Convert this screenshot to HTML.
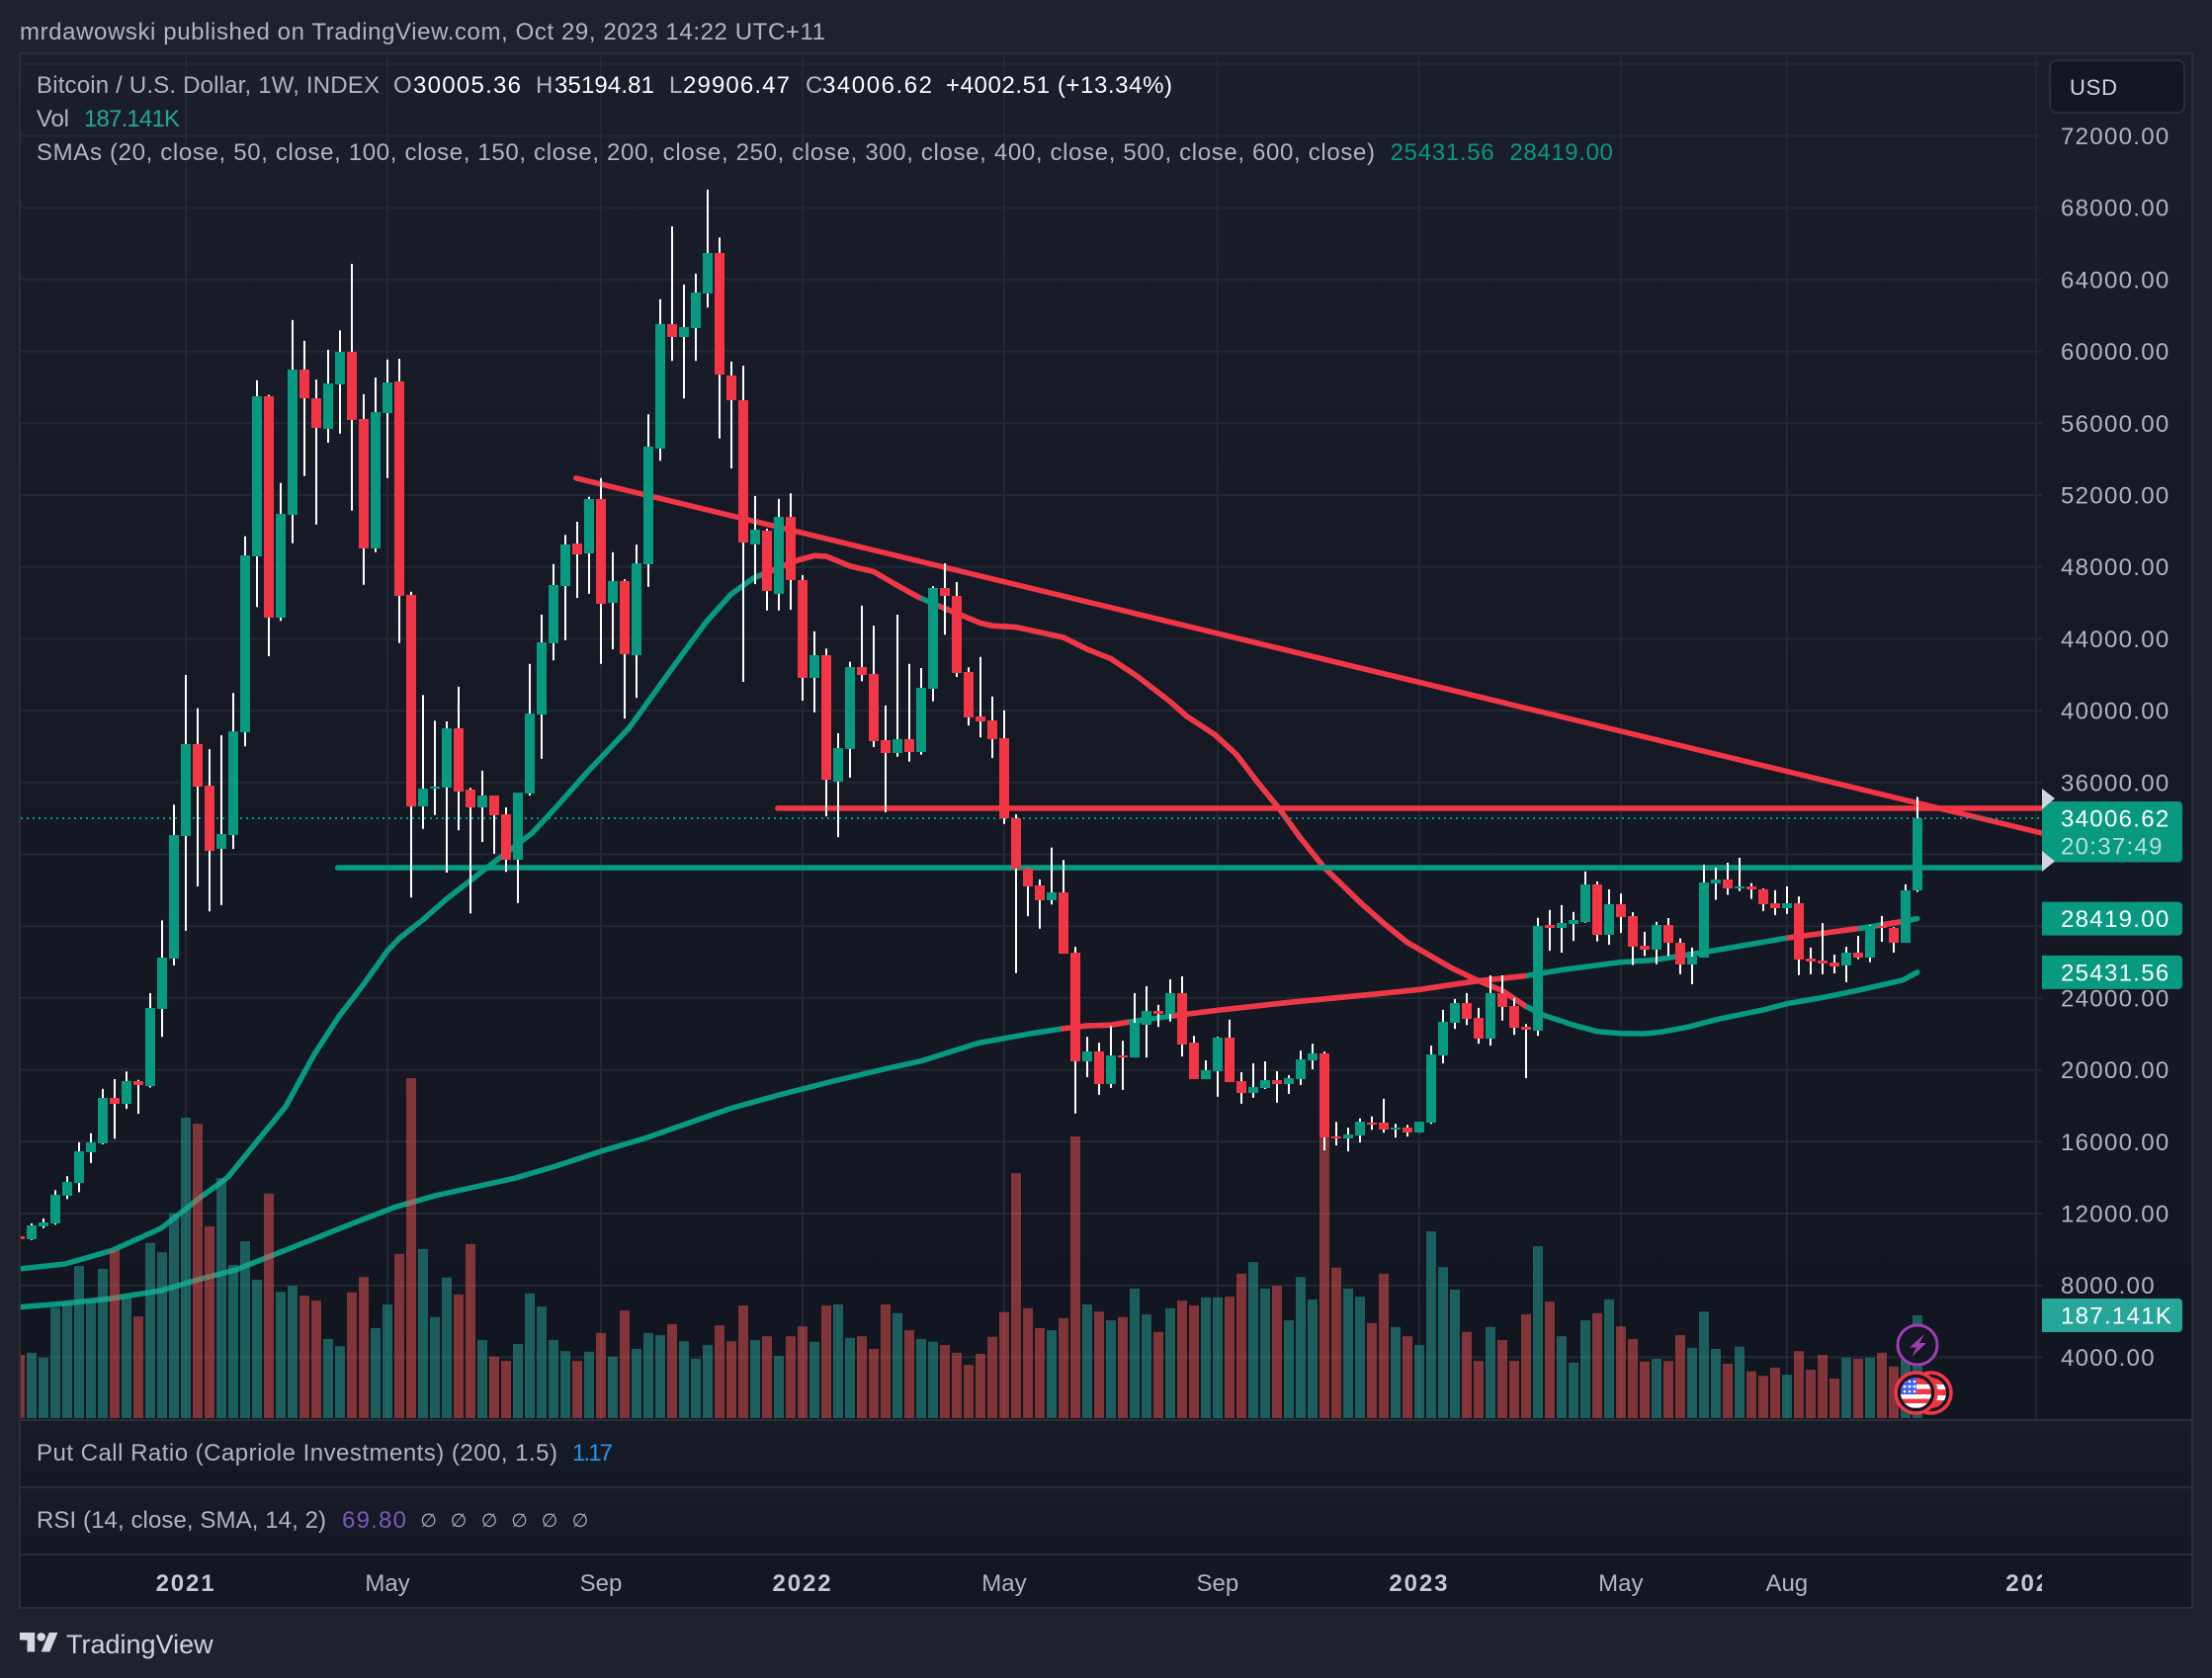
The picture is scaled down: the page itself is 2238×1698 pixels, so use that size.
<!DOCTYPE html>
<html lang="en">
<head>
<meta charset="utf-8">
<title>BTCUSD weekly chart</title>
<style>
html,body{margin:0;padding:0;background:#1e222d;width:2238px;height:1698px;overflow:hidden}
svg{display:block}
text{font-family:"Liberation Sans","DejaVu Sans",sans-serif;font-size:24px;fill:#b2b5be}
.val{fill:#ffffff}
</style>
</head>
<body>
<svg id="chart" xmlns="http://www.w3.org/2000/svg" width="2238" height="1698" viewBox="0 0 2238 1698">
<defs>
<linearGradient id="paneGrad" x1="0" y1="0" x2="0" y2="1"><stop offset="0" stop-color="#1b1f2b"/><stop offset="0.35" stop-color="#161a26"/><stop offset="1" stop-color="#121620"/></linearGradient>
<linearGradient id="subGrad" x1="0" y1="0" x2="0" y2="1"><stop offset="0" stop-color="#181c27"/><stop offset="1" stop-color="#141822"/></linearGradient>
<clipPath id="paneClip"><rect x="21" y="55" width="2045" height="1381"/></clipPath>
<clipPath id="timeClip"><rect x="21" y="1575" width="2045" height="50"/></clipPath>
<clipPath id="smaARedClip"></clipPath>
<clipPath id="smaBRedClip"></clipPath>
<clipPath id="flagClipA"><circle cx="1938.5" cy="1409.5" r="15.5"/></clipPath>
<clipPath id="flagClipB"><circle cx="1953.5" cy="1409.5" r="15.5"/></clipPath>
</defs>

<rect x="0" y="0" width="2238" height="1698" fill="#1e222d"/>
<text x="20" y="40" textLength="815" lengthAdjust="spacing">mrdawowski published on TradingView.com, Oct 29, 2023 14:22 UTC+11</text>

<rect x="20" y="54" width="2198" height="1573" fill="#131722" stroke="#2a2e39" stroke-width="2"/>
<rect x="21" y="55" width="2196" height="1381" fill="url(#paneGrad)"/>
<rect x="21" y="1438" width="2196" height="66" fill="url(#subGrad)"/>
<rect x="21" y="1506" width="2196" height="66" fill="url(#subGrad)"/>
<rect x="21" y="1574" width="2196" height="52" fill="#131722"/>
<g stroke="#2a2e39" stroke-width="2">
<line x1="20" x2="2218" y1="1437" y2="1437"/><line x1="20" x2="2218" y1="1505" y2="1505"/><line x1="20" x2="2218" y1="1573" y2="1573"/>
</g>

<g id="gridLayer"></g>
<g clip-path="url(#paneClip)">
<g id="smaLayer"></g>
<g id="trendLayer"></g>
<g id="volumeLayer"></g>
<g id="priceLineLayer"></g>
<g id="candleLayer"></g>
</g>
<g id="priceAxisLayer"></g>
<g id="timeAxisLayer" clip-path="url(#timeClip)"></g>

<text x="37" y="94" textLength="347" lengthAdjust="spacing">Bitcoin / U.S. Dollar, 1W, INDEX</text>
<text x="398" y="94">O</text>
<text class="val" x="418" y="94" textLength="109" lengthAdjust="spacing">30005.36</text>
<text x="542" y="94">H</text>
<text class="val" x="561" y="94" textLength="101" lengthAdjust="spacing">35194.81</text>
<text x="677" y="94">L</text>
<text class="val" x="691" y="94" textLength="108" lengthAdjust="spacing">29906.47</text>
<text x="815" y="94">C</text>
<text class="val" x="832" y="94" textLength="111" lengthAdjust="spacing">34006.62</text>
<text class="val" x="957" y="94" textLength="229" lengthAdjust="spacing">+4002.51 (+13.34%)</text>
<text x="37" y="128" textLength="33" lengthAdjust="spacing">Vol</text>
<text x="85" y="128" textLength="97" lengthAdjust="spacing" style="fill:#26a69a">187.141K</text>
<text x="37" y="162" textLength="1354" lengthAdjust="spacing">SMAs (20, close, 50, close, 100, close, 150, close, 200, close, 250, close, 300, close, 400, close, 500, close, 600, close)</text>
<text x="1406.6" y="162" textLength="105" lengthAdjust="spacing" style="fill:#089981">25431.56</text>
<text x="1527.4" y="162" textLength="104.5" lengthAdjust="spacing" style="fill:#089981">28419.00</text>

<text x="37" y="1478" textLength="527" lengthAdjust="spacing">Put Call Ratio (Capriole Investments) (200, 1.5)</text>
<text x="579" y="1478" textLength="41" lengthAdjust="spacing" style="fill:#2196f3">1.17</text>
<text x="37" y="1546" textLength="293" lengthAdjust="spacing">RSI (14, close, SMA, 14, 2)</text>
<text x="346" y="1546" textLength="65" lengthAdjust="spacing" style="fill:#7e57c2">69.80</text>
<g text-anchor="middle">
<text x="433.7" y="1545" style="font-family:'DejaVu Sans',sans-serif;font-size:19px">∅</text>
<text x="464" y="1545" style="font-family:'DejaVu Sans',sans-serif;font-size:19px">∅</text>
<text x="495" y="1545" style="font-family:'DejaVu Sans',sans-serif;font-size:19px">∅</text>
<text x="525.5" y="1545" style="font-family:'DejaVu Sans',sans-serif;font-size:19px">∅</text>
<text x="556" y="1545" style="font-family:'DejaVu Sans',sans-serif;font-size:19px">∅</text>
<text x="587" y="1545" style="font-family:'DejaVu Sans',sans-serif;font-size:19px">∅</text>
</g>

<g>
<rect x="2074" y="61" width="136" height="53" rx="7" fill="#131722" stroke="#2a2e39" stroke-width="2"/>
<text x="2094" y="96" textLength="48" lengthAdjust="spacing" style="fill:#d1d4dc;font-size:22px">USD</text>
</g>

<g id="tagLayer"></g>

<g fill="#d1d4dc">
<path d="M2066 798 L2079 808 L2066 819 Z"/>
<path d="M2066 861 L2079 871.5 L2066 882 Z"/>
</g>

<g>
<circle cx="1953.5" cy="1409.5" r="20.5" fill="#131722" stroke="#f23645" stroke-width="3.5"/>
<g clip-path="url(#flagClipB)">
<rect x="1936" y="1392" width="36" height="36" fill="#f23645"/>
<rect x="1936" y="1401" width="36" height="5" fill="#ffffff"/>
<rect x="1936" y="1412" width="36" height="5" fill="#ffffff"/>
</g>
<circle cx="1938.5" cy="1409.5" r="20.5" fill="#131722" stroke="#f23645" stroke-width="3.5"/>
<g clip-path="url(#flagClipA)">
<rect x="1921" y="1392" width="36" height="36" fill="#f23645"/>
<rect x="1921" y="1401" width="36" height="4.5" fill="#ffffff"/>
<rect x="1921" y="1411" width="36" height="4.5" fill="#ffffff"/>
<rect x="1921" y="1420" width="36" height="4.5" fill="#ffffff"/>
<rect x="1921" y="1392" width="18" height="19" fill="#2962ff" opacity="0.85"/>
<g fill="#ffffff"><circle cx="1927" cy="1398" r="1.3"/><circle cx="1932" cy="1398" r="1.3"/><circle cx="1937" cy="1398" r="1.3"/><circle cx="1927" cy="1403" r="1.3"/><circle cx="1932" cy="1403" r="1.3"/><circle cx="1937" cy="1403" r="1.3"/><circle cx="1927" cy="1408" r="1.3"/><circle cx="1932" cy="1408" r="1.3"/><circle cx="1937" cy="1408" r="1.3"/></g>
</g>
</g>
<g>
<circle cx="1940" cy="1361" r="20" fill="#131722" stroke="#9c3fb5" stroke-width="3"/>
<path d="M1947 1350 L1932 1363.5 L1939 1363.5 L1934 1373 L1949 1359 L1942 1359 Z" fill="#9c3fb5"/>
</g>

<g>
<path transform="translate(20,1647.7) scale(1.083)" d="M14 22H7V11H0V4h14v18zM28 22h-8l7.5-18h8L28 22z" fill="#d6d8e0"/>
<circle cx="41.7" cy="1656.4" r="4.3" fill="#d6d8e0"/>
<text x="67" y="1673" textLength="148.6" lengthAdjust="spacing" style="font-size:27px;fill:#d1d4dc">TradingView</text>
</g>
</svg>

<script>
var opens=[10720,10565,11299,11453,12997,13692,15429,15892,18440,18092,19366,19096,23381,26198,33031,38126,35810,32259,33069,38782,48586,57503,45190,50902,58970,57387,55727,58159,59973,56229,49011,56577,58314,46425,34652,35655,35694,39014,35617,34613,35269,34227,31680,35385,39786,43761,46927,49320,48741,51790,45962,47197,43105,48162,54569,61517,60823,61286,63216,65493,58661,57271,49243,50015,46502,50786,47274,41831,43105,36080,37856,42410,42024,38357,37624,38396,37701,41214,46811,46386,42140,39670,39438,38473,33996,31216,30251,29402,29865,26519,20470,21017,19211,20798,20689,22495,23289,23098,24274,21510,19485,19923,21784,19375,18718,18992,19430,19211,19485,20525,20908,16282,16173,16337,17049,17049,16666,16775,16501,17049,20798,22632,23727,22906,21729,24274,23563,22386,22167,28052,27887,28134,28265,30349,27524,29215,28566,26899,26690,28057,27084,25880,26250,30373,30604,30095,30211,30048,29284,29006,29284,26181,26088,25972,25764,26505,26204,27987,27895,27084,30005.36];
var highs=[10990,11453,11723,13306,14078,15969,16471,18942,19482,19907,19443,24268,28321,34768,41986,40133,37856,38628,40982,49706,58391,57580,52678,61749,60591,58429,60089,61170,64876,57619,58545,59549,59587,46618,40866,39438,39400,41330,35694,36659,35269,34613,35424,42603,45344,48162,49783,50516,51906,52948,48818,47313,49243,56499,62907,66960,63718,64335,69006,66342,59433,59201,51945,50130,51790,52099,47544,44418,43453,38743,42719,45846,44726,40287,45344,42603,42372,46927,48200,47158,42410,42989,40789,40017,34227,31216,30598,32374,31680,26848,21839,21510,22441,21620,24274,24658,23618,25041,25205,21893,20525,21839,22796,19868,20361,20470,19923,19704,21072,21455,21017,17104,16775,17295,17405,18390,16994,16939,17104,21346,23344,23946,24274,23453,25260,25260,24001,22550,28462,28900,29174,28790,31044,30488,30048,29817,28775,27686,28242,28450,27316,26806,31415,31253,31531,31809,30396,30095,30002,30211,29655,26806,28172,26412,26852,27454,28057,28566,27941,30326,35194.81];
var lows=[10411,10527,11183,11376,12804,13190,14811,15854,16162,17822,17552,19019,21837,25812,27742,30213,28823,29171,32297,38010,45769,43028,44997,49320,53064,50362,54917,55419,51134,47004,48818,52948,43761,29595,33417,34189,30985,33339,28707,32683,32027,31023,29286,35270,37315,42796,43916,46270,46502,42603,43414,39554,40712,46888,53913,59472,57387,59472,62444,55148,53489,41600,47042,45576,45576,45614,40558,39901,34111,32953,36273,41638,37971,34343,37431,37161,37547,40519,44225,41870,39168,38512,37354,33687,25388,28553,27858,29209,26469,17569,19594,18609,18992,18883,20689,20689,22386,22687,20744,19485,19485,18499,19320,18116,18445,18937,18171,18664,19156,20032,15516,15790,15461,15954,16666,16501,16228,16282,16501,16990,20361,22276,22495,21455,21346,22742,21948,19539,21893,26628,26519,27176,28196,27153,26968,27617,25833,26343,25880,26343,25324,24768,26250,29469,29747,29956,29516,28844,28612,28682,25277,25324,25324,25370,24884,26158,25995,27130,26528,27084,29906.47];
var closes=[10565,11337,11492,13036,13769,15468,15969,18440,18092,19366,19135,23458,26237,33069,38126,35771,32181,33108,38859,48625,57503,45190,50941,58970,57349,55727,58236,59973,56191,49011,56615,58275,46386,34652,35655,35771,39014,35501,34613,35269,34189,31680,35424,39824,43800,47004,49243,48741,51790,45962,47197,43144,48200,54685,61517,60823,61363,63293,65493,58700,57271,49358,50092,46656,50786,47274,41831,43105,36196,37933,42410,41947,38280,37624,38396,37701,41252,46811,46348,42102,39631,39400,38396,33996,31216,30213,29402,29865,26469,20470,21017,19211,20798,20689,22605,23289,23125,24274,21401,19485,19977,21784,19320,18718,19047,19430,19211,19539,20579,20908,16228,16173,16392,17104,16994,16666,16775,16501,17104,20853,22687,23727,22851,21729,24274,23508,22331,22194,28024,27887,28188,28353,30349,27524,29215,28497,26852,26690,28057,27061,25880,26296,30442,30604,30095,30211,30048,29215,29006,29284,26134,26019,25926,25764,26505,26204,27987,27895,27084,30002,34006.62];
var volumesK=[115,119,110,201,210,277,213,272,306,219,185,319,302,373,547,536,349,437,279,322,252,409,230,241,223,214,144,131,229,257,164,207,299,619,308,184,256,225,317,142,112,104,135,227,203,142,122,104,121,155,112,196,126,155,151,171,140,108,133,169,140,205,142,149,113,149,167,139,205,207,146,149,126,207,191,160,144,139,133,119,97,117,148,193,446,200,164,160,182,513,207,194,178,184,236,189,157,200,214,205,220,220,221,263,284,236,241,178,257,216,513,274,236,221,173,263,166,149,133,340,275,234,157,104,166,142,104,189,313,212,149,101,178,191,216,167,144,103,108,104,151,128,194,126,99,130,85,77,92,79,122,88,115,72,110,108,110,119,94,117,187.141];

var smaABars=[0,3.8,7.7,11.9,15.4,17.5,20,22.4,24.8,26.9,29,31,32,34,36,40,43.2,45,47.8,51.4,54.9,57.9,60,61.9,63.6,65.5,67,68,70,72,74,75.8,78,81,82,84,88,90,92,94.3,97,98.4,100.8,102.6,104.4,106.2,108,110,113,115.1,117,120.8,123,125,127,128.5,131,133,135,137,138.4,140.8,143.2,147,149,152,155,158.8,160];
var smaAValues=[8919,9194,9926,11175,12990,13997,16017,17942,20836,22960,24770,26625,27323,28363,29518,31565,33183,34459,36539,39054,42261,44958,46498,47389,47851,48358,48628,48590,48050,47736,46966,46311,45695,44881,44727,44650,44077,43417,42889,41877,40501,39686,38647,37552,35989,34537,32897,31257,29337,28105,27092,25645,24957,24413,23538,23043,22498,22140,22030,22014,22107,22404,22823,23334,23681,24027,24424,25001,25431.56];
var smaARedStart=[62.5,77.5];
var smaARedEnd=[76,127];
var smaBBars=[0,3.5,7.7,11.9,15,18.2,21,24.5,28,31.6,35,41.7,45.2,49,52.6,56.1,60,64.2,68.6,73,76,80.8,85,88,90,92,94,97,101,107,113.9,118,121,123,127,130,135,137.8,142.8,149,155.4,158.8,160];
var smaBValues=[6790,6977,7268,7708,8314,8864,9596,10514,11433,12347,12990,13964,14641,15466,16165,16974,17865,18636,19373,20060,20490,21491,21992,22300,22454,22498,22713,22988,23318,23752,24193,24468,24765,24957,25233,25562,25997,26113,26635,27340,27901,28264,28419];
var smaBRedStart=[87.8,97.2,149,157];
var smaBRedEnd=[93.5,127,155,159];

var downTrendBars=[46.9,170.5];
var downTrendPrices=[52946,33183];
var resistanceBars=[63.9,170.5];
var resistancePrices=[34564,34564];
var supportBars=[26.8,170.5];
var supportPrices=[31257,31257];

var gridPrices=[4000,8000,12000,16000,20000,24000,28000,32000,36000,40000,44000,48000,52000,56000,60000,64000,68000,72000,76000];
var priceTickLabels=[4000,8000,12000,16000,20000,24000,36000,40000,44000,48000,52000,56000,60000,64000,68000,72000];
var timeTickBars=[14,31,49,66,83,101,118,135,149,170];
var timeTickLabels=['2021','May','Sep','2022','May','Sep','2023','May','Aug','2024'];
var lastClose=34006.62;
var tagPrices=[28419,25431.56];
var tagLabels=['28419.00','25431.56'];

var NS='http://www.w3.org/2000/svg';
function xAt(bar){return 20.1+11.998*bar;}
function yAt(price){return 1373.4-(price-4000)*0.018175;}
function hVol(k){return k*0.5557;}
function mk(tag,parent,attrs){var el=document.createElementNS(NS,tag);for(var k in attrs){el.setAttribute(k,attrs[k]);}parent.appendChild(el);return el;}
function pathOf(bars,vals){var d='';for(var i=0;i<bars.length;i++){d+=(i?'L':'M')+xAt(bars[i]).toFixed(1)+' '+yAt(vals[i]).toFixed(1);}return d;}

var gridLayer=document.getElementById('gridLayer');
gridPrices.forEach(function(p){
  var el=mk('line',gridLayer,{x1:21,x2:2066,y1:yAt(p),y2:yAt(p),stroke:'#242833','stroke-width':2});
  
  
});
timeTickBars.forEach(function(b){
  var el=mk('line',gridLayer,{x1:xAt(b),x2:xAt(b),y1:55,y2:1436,stroke:'#242833','stroke-width':2});
  
  
});

var smaLayer=document.getElementById('smaLayer');
function drawSma(bars,vals,redStart,redEnd,clipId,name){
  var clip=document.getElementById(clipId);
  redStart.forEach(function(s,i){
    mk('rect',clip,{x:xAt(s),y:0,width:xAt(redEnd[i])-xAt(s),height:1698});
  });
  var g=mk('path',smaLayer,{d:pathOf(bars,vals),fill:'none',stroke:'#089981','stroke-width':5.5,'stroke-linecap':'round','stroke-linejoin':'round'});
  
  
  var r=mk('path',smaLayer,{d:pathOf(bars,vals),fill:'none',stroke:'#f23645','stroke-width':5.5,'stroke-linejoin':'round','clip-path':'url(#'+clipId+')'});
  
  
}
drawSma(smaABars,smaAValues,smaARedStart,smaARedEnd,'smaARedClip','sma-line-fast');
drawSma(smaBBars,smaBValues,smaBRedStart,smaBRedEnd,'smaBRedClip','sma-line-slow');

var trendLayer=document.getElementById('trendLayer');
var dt=mk('path',trendLayer,{d:pathOf(downTrendBars,downTrendPrices),fill:'none',stroke:'#f23645','stroke-width':5.5,'stroke-linecap':'round'});


var rs=mk('path',trendLayer,{d:pathOf(resistanceBars,resistancePrices),fill:'none',stroke:'#f23645','stroke-width':5.5,'stroke-linecap':'round'});


var sp=mk('path',trendLayer,{d:pathOf(supportBars,supportPrices),fill:'none',stroke:'#089981','stroke-width':5.5,'stroke-linecap':'round'});



var volumeLayer=document.getElementById('volumeLayer');
volumesK.forEach(function(v,i){
  var up=closes[i]>=opens[i];
  var h=hVol(v);
  var bar=mk('rect',volumeLayer,{x:Math.round(xAt(i))-5,y:1435-h,width:10,height:h,fill:up?'#26a69a':'#ef5350','fill-opacity':0.5});
  
  
});

var plLayer=document.getElementById('priceLineLayer');
var pl=mk('line',plLayer,{x1:21,x2:2066,y1:yAt(lastClose),y2:yAt(lastClose),stroke:'#089981','stroke-width':2,'stroke-dasharray':'2 4'});



var candleLayer=document.getElementById('candleLayer');
opens.forEach(function(o,i){
  var c=closes[i],up=c>=o,cx=Math.round(xAt(i));
  var g=mk('g',candleLayer,{});
  
  
  var yH=yAt(highs[i]),yL=yAt(lows[i]);
  mk('rect',g,{x:cx-1,y:yH,width:2,height:Math.max(1,yL-yH),fill:'#ffffff'});
  var bodyTop=yAt(Math.max(o,c)),bodyBot=yAt(Math.min(o,c));
  mk('rect',g,{x:cx-5,y:Math.round(bodyTop),width:10,height:Math.max(2,Math.round(bodyBot-bodyTop)),fill:up?'#089981':'#f23645'});
});

var priceAxisLayer=document.getElementById('priceAxisLayer');
priceTickLabels.forEach(function(p){
  var t=mk('text',priceAxisLayer,{x:2085,y:yAt(p)+8.5,'letter-spacing':'1.3'});
  t.textContent=p.toFixed(2);
  
  
});

var timeAxisLayer=document.getElementById('timeAxisLayer');
timeTickLabels.forEach(function(label,i){
  var year=/^\d+$/.test(label);
  var t=mk('text',timeAxisLayer,{x:xAt(timeTickBars[i]),y:1610,'text-anchor':'middle'});
  if(year){t.setAttribute('font-weight','700');t.setAttribute('letter-spacing','1.9');t.style.fill='#c6c8d2';}
  t.textContent=label;
  
  
});

var tagLayer=document.getElementById('tagLayer');
function tag(yTop,h,color,name){
  var r=mk('path',tagLayer,{d:'M2066 '+yTop+'H2204a4 4 0 0 1 4 4V'+(yTop+h-4)+'a4 4 0 0 1 -4 4H2066Z',fill:color});
  
  
}
function tagText(s,y,fill,name){
  var t=mk('text',tagLayer,{x:2085,y:y,'letter-spacing':'1.3'});
  t.style.fill=fill;
  t.textContent=s;
  
  
}
var lastY=yAt(lastClose);
tag(lastY-17,61.5,'#089981','last-price-tag');
tagText(lastClose.toFixed(2),lastY+8.5,'#ffffff','last-price-value');
tagText('20:37:49',lastY+36.5,'#b7dfd8','bar-countdown');
tagPrices.forEach(function(p,i){
  var y=yAt(p);
  tag(y-17,34,'#089981','sma-price-tag');
  tagText(tagLabels[i],y+8.5,'#ffffff','sma-price-value');
});
var volTagY=1314;
tag(volTagY,34,'#26a69a','volume-tag');
tagText('187.141K',volTagY+25.5,'#ffffff','volume-tag-value');
</script>
</body>
</html>
